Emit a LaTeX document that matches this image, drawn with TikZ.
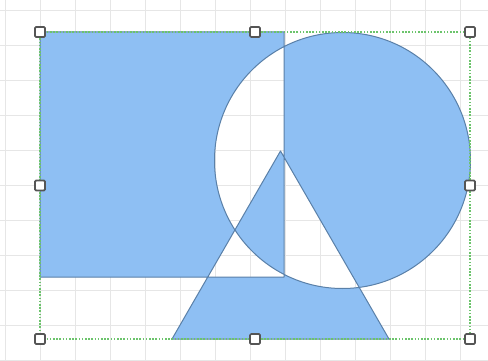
\documentclass[tikz,border=0pt]{standalone}
\definecolor{gridc}{HTML}{E6E6E6}
\definecolor{shapefill}{HTML}{8EBFF3}
\definecolor{shapeline}{HTML}{5A80A8}
\definecolor{selc}{HTML}{6CC46C}
\definecolor{handlec}{HTML}{555555}
\begin{document}
\begin{tikzpicture}[x=1pt,y=-1pt,
  gridline/.style={draw=gridc,line width=0.8pt},
  shapestyle/.style={fill=shapefill,draw=shapeline,line width=1pt,even odd rule,line join=round},
  selbox/.style={draw=selc,line width=1.4pt,dash pattern=on 1.6pt off 1.6pt},
  handle/.style={draw=handlec,fill=white,line width=1.7pt,rounded corners=1.2pt,minimum size=10pt,inner sep=0pt,shape=rectangle}]
\useasboundingbox (0,0) rectangle (488,361);
\fill[white] (0,0) rectangle (488,361);
\foreach \gx in {5,40,...,460} \draw[gridline] (\gx,0) -- (\gx,361);
\foreach \gy in {10,45,...,360} \draw[gridline] (0,\gy) -- (488,\gy);
% combined shape, even-odd
\path[shapestyle] (40,32) rectangle (284,277)
  (342.5,160.5) circle[radius=128]
  (172,339) -- (280.5,151) -- (389,339) -- cycle;
% selection box
\draw[selbox] (40,32) rectangle (470,339);
% handles
\node[handle] (h1) at (40,32) {};
\node[handle] (h2) at (255,32) {};
\node[handle] (h3) at (470,32) {};
\node[handle] (h4) at (40,185.5) {};
\node[handle] (h5) at (470,185.5) {};
\node[handle] (h6) at (40,339) {};
\node[handle] (h7) at (255,339) {};
\node[handle] (h8) at (470,339) {};
\end{tikzpicture}
\end{document}
